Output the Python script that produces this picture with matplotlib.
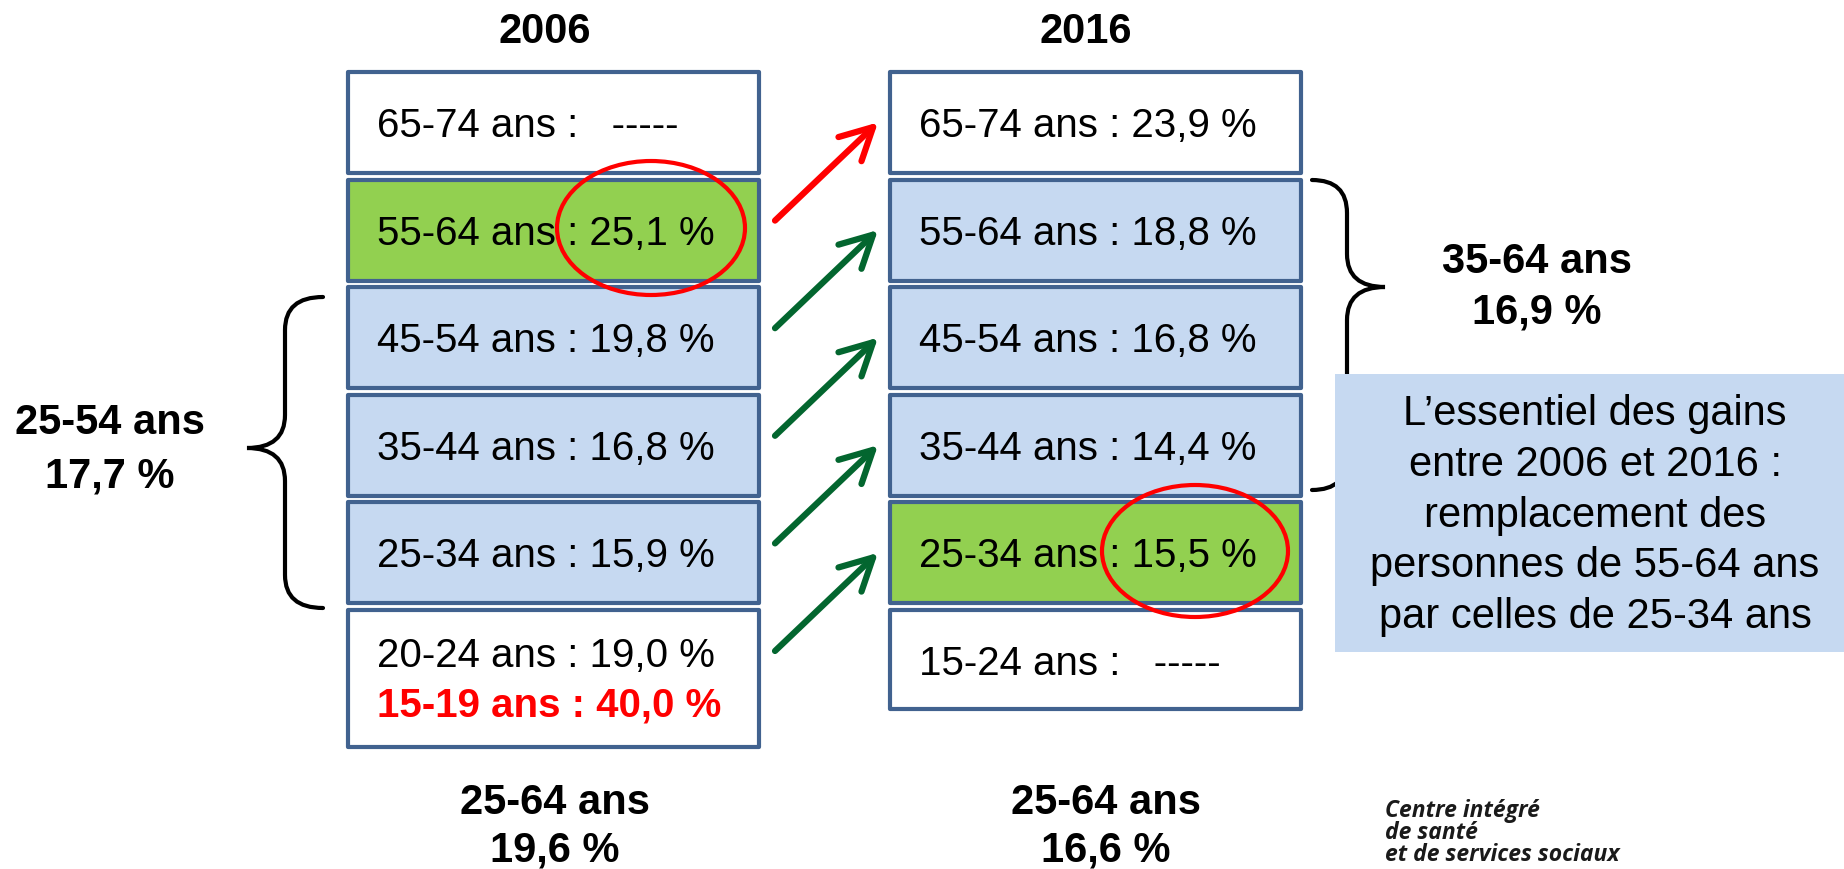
import matplotlib
matplotlib.use("Agg")
import matplotlib.pyplot as plt
from matplotlib.patches import Rectangle, Ellipse, FancyArrowPatch, PathPatch
from matplotlib.path import Path

plt.rcParams["font.family"] = ["Liberation Sans", "DejaVu Sans"]

# données
years = ["2006", "2016"]
ages_2006 = ["65-74 ans", "55-64 ans", "45-54 ans", "35-44 ans", "25-34 ans", "20-24 ans"]
rates_2006 = [None, "25,1 %", "19,8 %", "16,8 %", "15,9 %", "19,0 %"]
ages_2016 = ["65-74 ans", "55-64 ans", "45-54 ans", "35-44 ans", "25-34 ans", "15-24 ans"]
rates_2016 = ["23,9 %", "18,8 %", "16,8 %", "14,4 %", "15,5 %", None]
extra_2006 = "15-19 ans : 40,0 %"
fills_2006 = ["white", "green", "blue", "blue", "blue", "white"]
fills_2016 = ["white", "blue", "blue", "blue", "green", "white"]
total_2564 = ["19,6 %", "16,6 %"]
group_2006 = ("25-54 ans", "17,7 %")
group_2016 = ("35-64 ans", "16,9 %")
note_lines = ["L\u2019essentiel des gains", "entre 2006 et 2016 :",
              "remplacement des", "personnes de 55-64 ans", "par celles de 25-34 ans"]
logo_lines = ["Centre intégré", "de santé", "et de services sociaux"]

colors = {"white": "white", "green": "#92D050", "blue": "#C6D9F1"}
edge = "#41628F"

fig = plt.figure(figsize=(18.44, 8.69), dpi=100)
ax = fig.add_axes([0, 0, 1, 1])
ax.set_xlim(0, 1844)
ax.set_ylim(869, 0)
ax.axis("off")

# mise en page (pixels)
col_x = [348, 890]
box_w = 411
top0 = 72
pitch = 107.6
box_h = 101
fs_box = 29
fs_big = 30


def box_text(x, y_center, s, **kw):
    # y_center = centre des majuscules
    ax.text(x, y_center + 14.4, s, fontsize=fs_box, va="baseline", ha="left", **kw)


for c, (ages, rates, fills) in enumerate([(ages_2006, rates_2006, fills_2006),
                                          (ages_2016, rates_2016, fills_2016)]):
    x0 = col_x[c]
    for i, (age, rate, f) in enumerate(zip(ages, rates, fills)):
        top = top0 + i * pitch
        h = box_h
        if i == len(ages) - 1:
            h = 137 if c == 0 else 99
        ax.add_patch(Rectangle((x0, top), box_w, h, facecolor=colors[f],
                               edgecolor=edge, lw=3, joinstyle="round", zorder=2))
        label = f"{age} : {rate}" if rate else f"{age} :   -----"
        if c == 0 and i == len(ages) - 1:
            box_text(x0 + 29, 653, label, zorder=4)
            box_text(x0 + 29, 702, extra_2006, color="#FF0000", fontweight="bold", zorder=4)
        else:
            box_text(x0 + 29, top + box_h / 2, label, zorder=4)
    # titres
    ax.text(x0 + box_w / 2 - 9 + (0 if c == 0 else -1), 43, years[c], fontsize=fs_big,
            fontweight="bold", ha="center", va="baseline")
    cx = x0 + box_w / 2 + (1 if c == 0 else 10)
    ax.text(cx, 814, "25-64 ans", fontsize=fs_big, fontweight="bold", ha="center", va="baseline")
    ax.text(cx, 861, total_2564[c], fontsize=fs_big, fontweight="bold", ha="center", va="baseline")

# flèches
for i in range(1, 6):
    tip_y = top0 + (i - 1) * pitch + box_h / 2 - 2
    col = "#FF0000" if i == 1 else "#03662F"
    arr = FancyArrowPatch((773, tip_y + 102), (880, tip_y),
                          arrowstyle="->,head_length=23,head_width=12",
                          mutation_scale=1, color=col, lw=4.5, zorder=3,
                          capstyle="round", joinstyle="round")
    ax.add_patch(arr)

# ellipses
ax.add_patch(Ellipse((651, 228), 188, 134, fill=False, edgecolor="#FF0000", lw=3, zorder=5))
ax.add_patch(Ellipse((1195, 551), 186, 132, fill=False, edgecolor="#FF0000", lw=3, zorder=5))


def brace(x_end, x_mid, x_tip, y_top, y_tip, y_bot, r=33):
    verts = [(x_end, y_top), (x_mid, y_top), (x_mid, y_top + r),
             (x_mid, y_tip - r), (x_mid, y_tip), (x_tip, y_tip),
             (x_mid, y_tip), (x_mid, y_tip + r),
             (x_mid, y_bot - r), (x_mid, y_bot), (x_end, y_bot)]
    codes = [Path.MOVETO, Path.CURVE3, Path.CURVE3,
             Path.LINETO, Path.CURVE3, Path.CURVE3,
             Path.CURVE3, Path.CURVE3,
             Path.LINETO, Path.CURVE3, Path.CURVE3]
    ax.add_patch(PathPatch(Path(verts, codes), fill=False, edgecolor="black",
                           lw=3, capstyle="round", zorder=1))


brace(323, 285, 247, 297, 448, 608)
brace(1312, 1347, 1385, 180, 287, 490)

ax.text(110, 434, group_2006[0], fontsize=fs_big, fontweight="bold", ha="center", va="baseline")
ax.text(110, 487, group_2006[1], fontsize=fs_big, fontweight="bold", ha="center", va="baseline")
ax.text(1537, 273, group_2016[0], fontsize=fs_big, fontweight="bold", ha="center", va="baseline")
ax.text(1537, 323, group_2016[1], fontsize=fs_big, fontweight="bold", ha="center", va="baseline")

# encadré
ax.add_patch(Rectangle((1335, 374), 520, 278, facecolor="#C6D9F1", edgecolor="none", zorder=6))
for k, line in enumerate(note_lines):
    ax.text(1595, 425 + k * 50.8, line, fontsize=fs_big, ha="center", va="baseline", zorder=7)

# logo
for k, line in enumerate(logo_lines):
    ax.text(1385, 817 + k * 22, line, fontsize=16.5, fontweight="bold", style="italic",
            family=["Open Sans", "DejaVu Sans"], color="#1A1A1A", ha="left", va="baseline")

fig.savefig("out.png", dpi=100)
